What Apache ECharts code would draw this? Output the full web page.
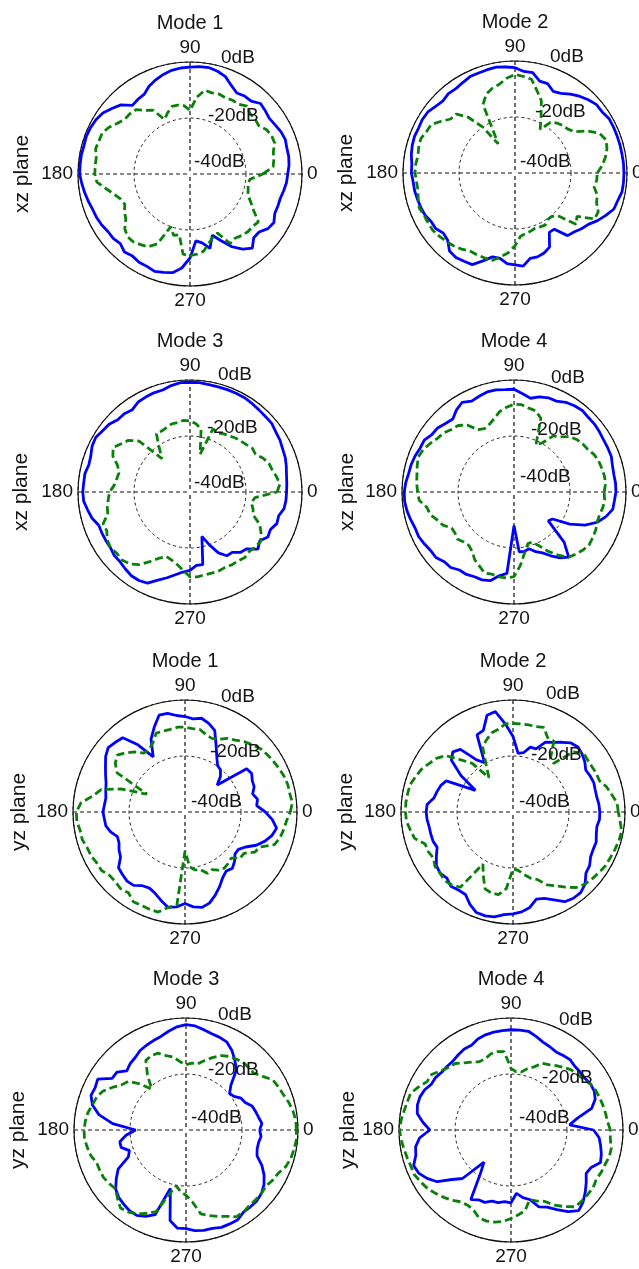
<!DOCTYPE html>
<html>
<head>
<meta charset="utf-8">
<script src="https://cdn.jsdelivr.net/npm/echarts@6/dist/echarts.min.js"></script>
<style>
  html, body { margin: 0; padding: 0; background: #ffffff; }
  #chart { width: 639px; height: 1269px; }
</style>
</head>
<body>
<div id="chart"></div>
<script>
// Sample angles (degrees) shared by every pattern cut
const angles = [0, 5, 10, 15, 20, 25, 30, 35, 40, 45, 50, 55, 60, 65, 70, 75, 80, 85,
                90, 95, 100, 105, 110, 115, 120, 125, 130, 135, 140, 145, 150, 155, 160, 165, 170, 175,
                180, 185, 190, 195, 200, 205, 210, 215, 220, 225, 230, 235, 240, 245, 250, 255, 260, 265,
                270, 275, 280, 285, 290, 295, 300, 305, 310, 315, 320, 325, 330, 335, 340, 345, 350, 355];

// Angle tick labels and radial rings (dB)
const angleTicks = [0, 90, 180, 270];
const ringValues = [0, -20, -40];
const ringLabels = ['0dB', '-20dB', '-40dB'];

// Titles and plane names
const modeTitles = ['Mode 1', 'Mode 2', 'Mode 3', 'Mode 4', 'Mode 1', 'Mode 2', 'Mode 3', 'Mode 4'];
const planeNames = ['xz plane', 'xz plane', 'xz plane', 'xz plane', 'yz plane', 'yz plane', 'yz plane', 'yz plane'];

// Normalised gain (dB) — solid blue trace
const xzMode1Blue = [-5.1, -4.5, -4.2, -4.2, -3.8, -4.2, -4.9, -5.4, -4.9, -4.4, -6.0, -6.0, -6.6, -5.1, -3.0, -2.0, -1.4, -1.5,
  -1.8, -2.0, -2.4, -3.2, -4.2, -5.4, -7.2, -7.5, -8.0, -5.1, -3.6, -2.0, -1.2, -0.8, -0.6, -0.8, -0.6, -0.6,
  -0.6, -1.2, -1.8, -2.4, -3.0, -3.2, -3.6, -4.2, -4.2, -4.8, -3.6, -4.2, -3.6, -3.6, -3.0, -3.6, -4.2, -6.3,
  -10.0, -16.0, -15.0, -12.5, -16.7, -13.7, -10.0, -7.2, -5.4, -7.8, -7.8, -6.0, -5.4, -6.6, -6.6, -6.6, -6.0, -5.4];
const xzMode2Blue = [-1.1, -1.1, -1.2, -1.2, -1.2, -1.2, -1.2, -2.0, -2.0, -3.0, -4.2, -5.6, -7.2, -7.8, -6.0, -6.0, -3.6, -3.6,
  -2.4, -2.0, -1.6, -1.8, -2.0, -2.0, -2.7, -3.2, -3.0, -3.6, -3.0, -2.0, -1.8, -2.0, -1.8, -2.0, -2.4, -3.0,
  -3.0, -3.5, -3.6, -3.9, -4.2, -4.5, -5.4, -5.4, -6.6, -6.0, -3.6, -3.2, -3.6, -3.9, -6.6, -9.0, -9.0, -7.5,
  -7.2, -6.6, -9.0, -9.0, -9.6, -10.8, -15.5, -15.5, -10.8, -10.2, -9.0, -8.0, -6.0, -4.2, -2.4, -2.0, -1.2, -1.1];
const xzMode3Blue = [-5.5, -5.3, -5.0, -4.4, -3.8, -3.5, -2.9, -2.6, -1.9, -1.9, -1.7, -1.4, -1.1, -1.1, -1.1, -1.1, -1.1, -0.8,
  -0.8, -0.8, -1.4, -2.3, -2.3, -2.6, -2.9, -4.1, -3.5, -3.5, -2.3, -1.9, -1.1, -1.4, -2.3, -2.6, -1.9, -1.9,
  -1.7, -1.9, -2.9, -3.8, -5.3, -5.3, -5.3, -5.3, -4.7, -4.7, -4.1, -3.5, -3.5, -4.1, -6.5, -8.3, -10.0, -11.3,
  -12.0, -13.7, -13.7, -23.6, -20.0, -16.0, -13.7, -13.7, -11.9, -11.3, -8.3, -9.6, -7.9, -8.3, -7.0, -7.2, -5.9, -5.6];
const xzMode4Blue = [-3.6, -3.6, -3.8, -3.6, -3.0, -3.0, -3.0, -2.7, -2.4, -2.4, -2.0, -2.4, -3.0, -4.2, -4.2, -4.8, -6.0, -4.8,
  -3.3, -3.3, -3.0, -3.0, -3.6, -4.2, -3.0, -4.2, -6.0, -5.4, -4.4, -4.2, -3.0, -3.0, -2.4, -2.0, -1.8, -1.2,
  -0.8, -0.8, -1.2, -1.8, -2.4, -2.4, -3.0, -3.6, -3.6, -4.8, -4.8, -6.0, -6.0, -6.6, -6.6, -7.2, -9.6, -10.8,
  -28.0, -18.5, -18.5, -19.0, -17.3, -16.0, -13.7, -11.3, -9.6, -14.7, -24.0, -23.2, -17.0, -12.0, -8.4, -6.0, -4.2, -4.0];
const yzMode1Blue = [-11.3, -14.3, -13.7, -15.0, -13.7, -13.5, -12.5, -13.1, -25.0, -22.1, -20.3, -19.7, -17.3, -13.7, -9.0, -7.2, -6.0, -6.6,
  -5.9, -5.4, -4.2, -4.2, -7.8, -11.3, -17.3, -10.7, -5.4, -4.8, -4.2, -5.4, -7.2, -8.7, -10.0, -10.7, -11.3, -11.1,
  -10.7, -11.1, -11.3, -12.5, -14.3, -14.0, -12.8, -11.9, -9.0, -8.4, -7.8, -8.0, -9.6, -10.0, -9.0, -7.2, -5.4, -6.0,
  -7.3, -6.0, -5.4, -6.3, -8.4, -10.7, -13.0, -14.3, -13.7, -15.0, -16.7, -16.7, -15.0, -11.9, -9.6, -7.8, -6.8, -8.7];
const yzMode2Blue = [-9.0, -9.2, -9.6, -9.6, -9.3, -9.6, -10.0, -8.7, -7.8, -7.2, -7.8, -9.6, -11.3, -12.5, -16.0, -16.0, -18.5, -19.0,
  -13.0, -8.4, -3.6, -4.2, -9.0, -9.6, -19.7, -17.3, -10.8, -9.6, -11.3, -17.3, -24.5, -13.7, -12.5, -11.9, -11.3, -9.2,
  -9.0, -9.2, -9.6, -9.6, -9.6, -10.1, -8.4, -6.6, -6.0, -6.6, -5.4, -6.0, -6.0, -3.6, -1.8, -1.6, -2.0, -3.2,
  -3.6, -4.2, -5.4, -7.8, -7.2, -5.4, -3.0, -2.4, -2.4, -3.6, -6.0, -6.6, -8.0, -8.4, -8.4, -9.2, -9.6, -9.0];
const yzMode3Blue = [-13.7, -12.8, -13.7, -14.3, -14.9, -16.7, -17.3, -19.1, -19.7, -17.3, -12.0, -9.6, -7.2, -5.4, -4.8, -4.4, -3.6, -2.7,
  -2.4, -3.0, -4.2, -5.4, -6.0, -6.6, -7.2, -8.4, -9.0, -10.1, -7.8, -7.8, -3.6, -4.2, -3.9, -5.4, -8.4, -13.7,
  -22.0, -18.5, -16.0, -16.0, -18.5, -17.3, -12.0, -9.6, -7.2, -6.0, -5.4, -4.8, -4.8, -6.0, -7.8, -18.4, -7.2, -4.8,
  -4.8, -3.9, -3.6, -3.6, -3.0, -3.0, -3.0, -4.2, -4.2, -4.2, -4.8, -6.0, -7.8, -10.1, -13.0, -13.7, -13.7, -13.1];
const yzMode4Blue = [-10.5, -19.0, -16.0, -10.2, -8.0, -7.2, -7.2, -7.8, -7.8, -7.8, -7.2, -7.5, -7.8, -7.2, -6.6, -5.4, -4.2, -4.2,
  -4.2, -4.4, -4.5, -4.8, -5.4, -6.6, -6.6, -7.2, -7.8, -7.8, -7.8, -7.2, -7.2, -6.0, -5.4, -5.4, -6.0, -8.4,
  -11.0, -7.2, -5.4, -4.8, -3.0, -3.6, -5.4, -7.8, -12.5, -15.5, -25.0, -20.9, -11.3, -12.5, -12.5, -13.7, -13.7, -14.3,
  -14.0, -17.3, -15.5, -14.3, -10.8, -9.6, -7.2, -4.4, -2.4, -3.6, -5.4, -7.2, -9.0, -8.4, -6.0, -6.6, -7.5, -8.4];

// Normalised gain (dB) — dashed green trace
const xzMode1Green = [-14.0, -10.2, -9.6, -9.2, -7.8, -7.8, -8.4, -10.0, -9.6, -9.6, -8.4, -9.6, -9.6, -10.0, -9.6, -10.0, -9.6, -12.5,
  -17.3, -15.5, -15.0, -15.0, -16.7, -18.5, -13.7, -12.3, -10.0, -9.6, -9.6, -8.4, -6.6, -5.4, -5.4, -5.1, -6.0, -6.0,
  -6.0, -6.6, -9.6, -12.0, -13.7, -14.3, -13.0, -12.0, -9.6, -8.4, -8.4, -9.2, -10.0, -12.5, -20.0, -17.3, -18.0, -11.3,
  -10.8, -11.3, -12.0, -14.3, -16.0, -16.7, -11.3, -12.0, -11.3, -10.8, -10.8, -10.2, -13.7, -16.0, -18.0, -18.5, -19.0, -18.5];
const xzMode2Green = [-10.6, -8.7, -7.2, -6.0, -5.4, -6.6, -10.0, -14.3, -15.5, -16.0, -16.7, -17.9, -22.0, -18.0, -12.5, -9.6, -6.0, -5.4,
  -4.8, -6.0, -7.8, -8.7, -10.0, -13.0, -28.0, -20.0, -14.0, -10.2, -10.0, -7.8, -5.4, -5.1, -4.2, -4.4, -4.8, -4.4,
  -4.3, -4.7, -4.8, -4.2, -3.6, -4.2, -4.2, -4.2, -4.8, -5.4, -6.0, -6.8, -7.8, -7.8, -7.8, -7.5, -9.6, -11.3,
  -14.0, -17.3, -18.0, -18.5, -19.0, -18.8, -18.5, -19.7, -19.7, -18.5, -11.5, -13.0, -7.2, -7.2, -9.0, -9.6, -11.3, -10.7];
const xzMode3Green = [-8.9, -7.8, -8.6, -9.6, -10.0, -11.3, -13.0, -12.8, -13.7, -14.3, -14.8, -15.5, -16.0, -16.7, -16.0, -26.0, -17.2, -15.5,
  -14.6, -14.3, -14.8, -14.8, -15.5, -16.0, -16.0, -20.9, -24.4, -14.3, -11.3, -10.0, -8.3, -9.6, -12.5, -13.7, -13.4, -12.8,
  -11.3, -10.7, -10.0, -9.6, -7.0, -7.2, -5.9, -5.3, -5.9, -5.6, -6.5, -8.3, -11.3, -13.9, -15.5, -14.8, -13.7, -11.9,
  -9.7, -9.6, -10.0, -10.0, -10.0, -10.3, -10.0, -10.0, -9.5, -10.0, -9.5, -9.2, -10.7, -12.5, -16.0, -16.7, -17.8, -16.7];
const xzMode4Green = [-7.8, -7.2, -7.2, -7.5, -7.8, -8.4, -9.6, -10.0, -10.8, -12.0, -14.3, -15.5, -19.7, -21.5, -12.0, -10.0, -9.6, -8.7,
  -8.7, -9.6, -10.8, -12.8, -14.3, -15.0, -14.3, -10.8, -9.0, -8.4, -7.2, -6.6, -5.4, -4.2, -3.6, -4.2, -4.8, -5.1,
  -5.6, -6.0, -8.4, -9.0, -10.8, -12.0, -14.3, -14.3, -13.7, -14.7, -15.0, -14.0, -12.0, -10.8, -9.2, -9.6, -9.2, -9.2,
  -9.8, -13.7, -18.0, -20.9, -21.0, -18.8, -15.5, -12.5, -9.6, -8.7, -7.8, -7.2, -7.5, -7.8, -8.4, -8.4, -7.8, -7.5];
const yzMode1Green = [-2.4, -1.5, -2.0, -2.0, -2.4, -3.0, -3.6, -4.2, -4.8, -6.0, -7.2, -8.7, -9.6, -11.3, -12.0, -11.3, -10.0, -10.1,
  -9.7, -9.6, -10.0, -10.1, -10.0, -12.8, -14.3, -14.3, -12.0, -10.1, -8.4, -9.6, -12.0, -25.0, -16.0, -9.0, -6.6, -2.7,
  -1.2, -1.2, -2.0, -2.0, -2.8, -3.0, -3.6, -3.6, -4.8, -4.8, -4.2, -4.8, -3.0, -3.2, -3.0, -3.0, -5.4, -6.6,
  -26.0, -20.3, -19.0, -18.7, -16.7, -17.3, -16.0, -15.5, -16.0, -16.7, -14.3, -14.3, -11.3, -10.4, -6.0, -4.8, -4.2, -3.6];
const yzMode2Green = [-2.4, -2.7, -4.2, -5.4, -7.2, -7.2, -7.5, -7.5, -7.2, -9.6, -17.3, -16.7, -10.8, -10.7, -7.8, -8.4, -8.4, -8.4,
  -8.4, -8.4, -10.0, -10.7, -12.5, -14.3, -21.0, -25.0, -17.3, -13.7, -8.7, -6.6, -5.4, -3.9, -3.0, -2.0, -1.8, -1.6,
  -1.6, -1.8, -2.8, -3.6, -6.6, -6.6, -7.2, -6.0, -6.0, -5.4, -6.0, -7.2, -18.5, -14.9, -10.8, -10.1, -10.0, -12.5,
  -19.7, -19.1, -17.3, -15.5, -14.3, -11.3, -9.6, -7.2, -4.8, -3.6, -3.0, -2.4, -1.8, -1.6, -1.2, -0.8, -0.6, -1.6];
const yzMode3Green = [-0.6, -0.6, -1.2, -2.0, -3.0, -3.6, -4.2, -6.6, -8.4, -8.4, -8.4, -9.0, -9.6, -10.7, -12.5, -14.3, -16.0, -16.0,
  -16.7, -15.5, -13.5, -12.5, -10.8, -10.7, -11.3, -16.0, -21.0, -16.7, -13.0, -11.9, -9.6, -7.2, -6.0, -5.4, -4.4, -3.9,
  -3.6, -3.6, -4.2, -4.8, -6.0, -6.0, -6.0, -6.6, -7.2, -5.4, -3.6, -4.2, -5.4, -7.2, -9.0, -16.0, -19.7, -17.9,
  -16.7, -14.3, -9.6, -8.4, -7.2, -6.0, -4.2, -4.2, -4.8, -4.8, -4.8, -5.1, -4.2, -3.6, -2.0, -1.2, -0.8, -0.4];
const yzMode4Green = [-4.5, -5.4, -5.7, -6.0, -6.3, -6.6, -7.2, -8.4, -9.0, -9.6, -10.8, -11.9, -13.0, -13.7, -16.0, -17.3, -19.0, -19.1,
  -18.0, -11.9, -11.6, -11.9, -13.0, -13.1, -12.0, -10.7, -9.0, -8.4, -7.2, -5.4, -5.4, -3.6, -1.8, -1.6, -1.2, -0.6,
  -0.2, -0.6, -1.2, -1.6, -2.0, -2.0, -2.8, -3.6, -4.8, -6.0, -7.2, -8.7, -9.0, -8.4, -6.6, -6.3, -6.6, -7.2,
  -8.4, -9.6, -10.8, -14.3, -13.0, -11.9, -9.0, -6.6, -4.2, -4.2, -4.2, -4.2, -4.8, -4.4, -4.2, -3.6, -3.6, -4.4];

const blueTraces = [xzMode1Blue, xzMode2Blue, xzMode3Blue, xzMode4Blue, yzMode1Blue, yzMode2Blue, yzMode3Blue, yzMode4Blue];
const greenTraces = [xzMode1Green, xzMode2Green, xzMode3Green, xzMode4Green, yzMode1Green, yzMode2Green, yzMode3Green, yzMode4Green];

// Panel placement: polar centre, y-label x, and dB label offsets from the centre
const RADIUS = 112;
const panels = [
  { cx: 190, cy: 174, lx: 22, db: [[31, -116], [18, -58], [4, -12]] },
  { cx: 515, cy: 173, lx: 346, db: [[35, -116], [20, -61], [5, -11]] },
  { cx: 190, cy: 492, lx: 21, db: [[28, -117], [17, -64], [4, -9]] },
  { cx: 514, cy: 492, lx: 347, db: [[37, -114], [17, -62], [6, -15]] },
  { cx: 185, cy: 812, lx: 19, db: [[36, -115], [25, -60], [6, -10]] },
  { cx: 513, cy: 812, lx: 346, db: [[33, -118], [18, -57], [6, -10]] },
  { cx: 186, cy: 1130, lx: 18, db: [[32, -115], [22, -60], [5, -12]] },
  { cx: 511, cy: 1130, lx: 348, db: [[48, -110], [31, -52], [8, -12]] }
];

const FONT = '"Liberation Sans", Arial, Helvetica, sans-serif';
const TEXT = '#141414';

function closedLoop(values) {
  const pts = angles.map((a, k) => [values[k], a]);
  pts.push([values[0], 360]);
  return pts;
}

const polar = [], angleAxis = [], radiusAxis = [], series = [], graphic = [];

panels.forEach((p, i) => {
  polar.push({ center: [p.cx, p.cy], radius: RADIUS });

  angleAxis.push({
    polarIndex: i,
    type: 'value',
    min: 0,
    max: 360,
    interval: 90,
    startAngle: 0,
    clockwise: false,
    axisLine: { show: true, lineStyle: { color: '#111', width: 1.2 } },
    axisTick: { show: false },
    axisLabel: {
      show: true,
      margin: 5,
      color: TEXT,
      fontSize: 19,
      fontFamily: FONT,
      formatter: v => (angleTicks.indexOf(v) >= 0 ? String(v) : '')
    },
    splitLine: { show: true, lineStyle: { color: '#111', width: 1.2, type: [4, 3] } }
  });

  radiusAxis.push({
    polarIndex: i,
    type: 'value',
    min: ringValues[2],
    max: ringValues[0],
    interval: 20,
    axisLine: { show: false },
    axisTick: { show: false },
    axisLabel: { show: false },
    splitLine: { show: true, lineStyle: { color: '#222', width: 1, type: [3, 3] } }
  });

  series.push({
    type: 'line',
    coordinateSystem: 'polar',
    polarIndex: i,
    data: closedLoop(blueTraces[i]),
    showSymbol: false,
    symbol: 'none',
    lineStyle: { color: '#0000ff', width: 2.8 },
    z: 3,
    animation: false
  });
  series.push({
    type: 'line',
    coordinateSystem: 'polar',
    polarIndex: i,
    data: closedLoop(greenTraces[i]),
    showSymbol: false,
    symbol: 'none',
    lineStyle: { color: '#0a800a', width: 2.8, type: [8, 4] },
    z: 4,
    animation: false
  });

  // panel title
  graphic.push({
    type: 'text', x: p.cx, y: p.cy - 151, z: 10,
    style: { text: modeTitles[i], fill: TEXT, font: '20px ' + FONT, align: 'center', verticalAlign: 'middle' }
  });
  // plane name (rotated y label)
  graphic.push({
    type: 'text', x: p.lx, y: p.cy, rotation: Math.PI / 2, z: 10,
    style: { text: planeNames[i], fill: TEXT, font: '21px ' + FONT, align: 'center', verticalAlign: 'middle' }
  });
  // ring labels
  ringLabels.forEach((lab, k) => {
    graphic.push({
      type: 'text', x: p.cx + p.db[k][0], y: p.cy + p.db[k][1], z: 10,
      style: { text: lab, fill: TEXT, font: '19px ' + FONT, align: 'left', verticalAlign: 'middle' }
    });
  });
});

const chart = echarts.init(document.getElementById('chart'), null, { renderer: 'canvas' });
chart.setOption({
  backgroundColor: '#ffffff',
  animation: false,
  polar: polar,
  angleAxis: angleAxis,
  radiusAxis: radiusAxis,
  series: series,
  graphic: graphic
});
</script>
</body>
</html>
